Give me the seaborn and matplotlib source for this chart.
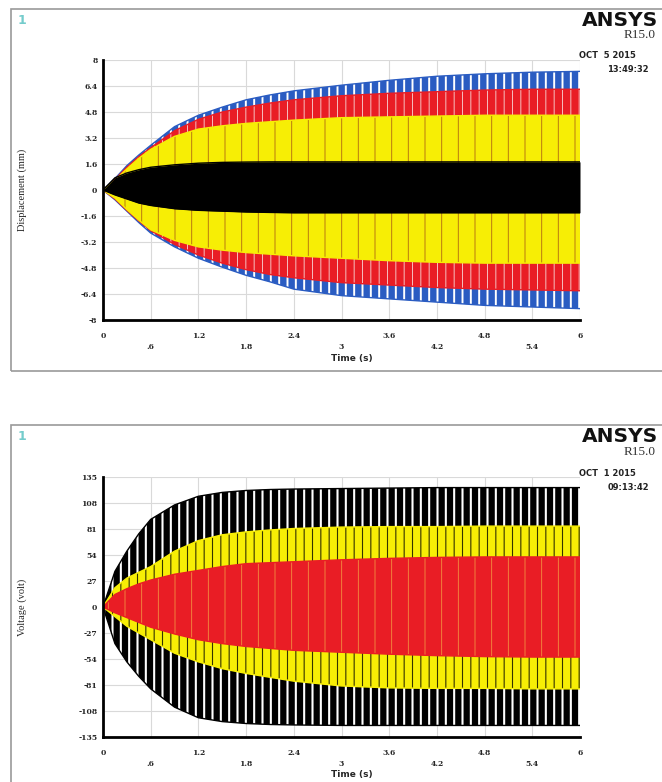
import matplotlib
matplotlib.use("Agg")
import matplotlib.pyplot as plt
import matplotlib.patches as mpatches
import seaborn as sns

# =============================================================================
# 1. DATOS (envolventes de cada señal)
# =============================================================================
T = [0, 0.15, 0.3, 0.45, 0.6, 0.9, 1.2, 1.5, 1.8, 2.1, 2.4, 3.0, 3.6, 4.2, 4.8, 5.4, 6.0]

# desplazamiento (mm)
DISP_BLUE_HI = [0, 0.7, 1.5, 2.15, 2.75, 3.9, 4.6, 5.1, 5.55, 5.85, 6.1, 6.45, 6.75, 7.0, 7.15, 7.25, 7.3]
DISP_BLUE_LO = [0, -0.6, -1.3, -2.0, -2.65, -3.5, -4.2, -4.75, -5.25, -5.65, -6.1, -6.5, -6.7, -6.9, -7.1, -7.2, -7.3]
DISP_RED_HI = [0, 0.65, 1.4, 2.05, 2.6, 3.65, 4.35, 4.8, 5.1, 5.35, 5.55, 5.8, 5.95, 6.05, 6.15, 6.2, 6.2]
DISP_RED_LO = [0, -0.55, -1.25, -1.9, -2.5, -3.35, -4.0, -4.5, -4.9, -5.2, -5.4, -5.7, -5.85, -6.0, -6.1, -6.15, -6.2]
DISP_YEL_HI = [0, 0.6, 1.3, 1.95, 2.5, 3.3, 3.75, 3.95, 4.1, 4.2, 4.3, 4.45, 4.5, 4.55, 4.6, 4.6, 4.6]
DISP_YEL_LO = [0, -0.5, -1.2, -1.85, -2.45, -3.1, -3.5, -3.7, -3.85, -3.95, -4.05, -4.2, -4.35, -4.45, -4.5, -4.5, -4.5]
DISP_BLK_HI = [0, 0.75, 1.05, 1.25, 1.4, 1.55, 1.65, 1.7, 1.72, 1.73, 1.73, 1.73, 1.73, 1.73, 1.73, 1.73, 1.73]
DISP_BLK_LO = [0, -0.3, -0.55, -0.8, -0.95, -1.15, -1.25, -1.3, -1.35, -1.38, -1.4, -1.4, -1.4, -1.4, -1.4, -1.4, -1.4]

# voltaje (volt)
VOLT_BLK_HI = [0, 37, 58, 76, 91, 106, 115, 119, 121, 122, 122.5, 123, 123.5, 124, 124, 124, 124]
VOLT_BLK_LO = [0, -38, -57, -72, -85, -104, -115, -119, -121, -122, -122.5, -123, -123, -123, -123, -123, -123]
VOLT_YEL_HI = [0, 20, 30, 36, 42, 58, 69, 75, 78, 80, 81.5, 83, 83.5, 83.5, 84, 84, 84]
VOLT_YEL_LO = [0, -10, -20, -27, -34, -48, -57, -64, -69, -73, -77, -82, -84, -84.5, -84.5, -85, -85]
VOLT_RED_HI = [0, 13, 19, 24, 28, 34, 38, 42, 45, 46, 47, 49, 50.5, 51.5, 52, 52, 52]
VOLT_RED_LO = [0, -6, -11, -16, -21, -28, -34, -38, -41, -43, -45, -47, -49, -50.5, -51.5, -52, -52]

X_TICKS_ROW1 = [0, 1.2, 2.4, 3.6, 4.8, 6]
X_LABELS_ROW1 = ['0', '1.2', '2.4', '3.6', '4.8', '6']
X_TICKS_ROW2 = [0.6, 1.8, 3.0, 4.2, 5.4]
X_LABELS_ROW2 = ['.6', '1.8', '3', '4.2', '5.4']

DISP_TICKS = [8, 6.4, 4.8, 3.2, 1.6, 0, -1.6, -3.2, -4.8, -6.4, -8]
DISP_LABELS = ['8', '6.4', '4.8', '3.2', '1.6', '0', '-1.6', '-3.2', '-4.8', '-6.4', '-8']
VOLT_TICKS = [135, 108, 81, 54, 27, 0, -27, -54, -81, -108, -135]
VOLT_LABELS = ['135', '108', '81', '54', '27', '0', '-27', '-54', '-81', '-108', '-135']

AZUL = '#2a5cc2'
ROJO = '#e91d25'
AMARILLO = '#f7ee05'
NEGRO = '#000000'

W, H = 662, 782


def fx(px):
    return px / W


def fy(py):
    return 1 - py / H


def dibujar_panel(ax, capas, yticks, ylabels, ylim):
    for i, (hi, lo, color, hatch, hcolor, hlw) in enumerate(capas):
        z = 2 + i
        with plt.rc_context({'hatch.linewidth': hlw}):
            ax.fill_between(T, lo, hi, facecolor=color,
                            edgecolor=hcolor if hatch else color,
                            hatch=hatch, linewidth=0, zorder=z)
        sns.lineplot(x=T, y=hi, color=color, lw=1.0, ax=ax, zorder=z)
        sns.lineplot(x=T, y=lo, color=color, lw=1.0, ax=ax, zorder=z)

    ax.set_xlim(0, 6)
    ax.set_ylim(*ylim)
    ax.set_xticks(X_TICKS_ROW1)
    ax.set_xticklabels(X_LABELS_ROW1)
    ax.set_xticks(X_TICKS_ROW2, minor=True)
    ax.set_xticklabels(X_LABELS_ROW2, minor=True)
    ax.set_yticks(yticks)
    ax.set_yticklabels(ylabels)
    ax.tick_params(axis='x', which='major', length=0, pad=8.5)
    ax.tick_params(axis='x', which='minor', length=0, pad=16.5)
    ax.tick_params(axis='y', length=0, pad=4)
    for lab in ax.get_xticklabels(which='both') + ax.get_yticklabels():
        lab.set_fontfamily('DejaVu Serif')
        lab.set_fontweight('bold')
        lab.set_fontsize(5.5)
    ax.grid(True, which='both', axis='x', color='#d9d9d9', lw=0.8, zorder=0)
    ax.grid(True, which='major', axis='y', color='#d9d9d9', lw=0.8, zorder=0)
    ax.set_axisbelow(True)
    ax.set_xlabel('')
    ax.set_ylabel('')
    for lado in ['top', 'right']:
        ax.spines[lado].set_visible(False)
    for lado in ['left', 'bottom']:
        ax.spines[lado].set_color('black')
        ax.spines[lado].set_linewidth(2.0)
        ax.spines[lado].set_zorder(10)


def main():
    sns.set_theme(style='whitegrid')
    plt.rcParams['font.family'] = ['DejaVu Sans']

    fig = plt.figure(figsize=(W / 100, H / 100), dpi=100)
    fig.patch.set_facecolor('white')

    # marcos de los dos paneles
    fig.patches.append(mpatches.Rectangle((fx(11), fy(371)), fx(700 - 11), (371 - 9) / H,
                                          transform=fig.transFigure, fill=False,
                                          edgecolor='#9a9a9a', lw=1.2))
    fig.patches.append(mpatches.Rectangle((fx(11), -0.05), fx(700 - 11), fy(425) + 0.05,
                                          transform=fig.transFigure, fill=False,
                                          edgecolor='#9a9a9a', lw=1.2))

    ax1 = fig.add_axes([fx(103), fy(320), fx(477), 260 / H])
    capas_desp = [
        (DISP_BLUE_HI, DISP_BLUE_LO, AZUL, '||', 'white', 1.4),
        (DISP_RED_HI, DISP_RED_LO, ROJO, '||', '#f6c0c0', 0.7),
        (DISP_YEL_HI, DISP_YEL_LO, AMARILLO, '|', '#b87a10', 0.7),
        (DISP_BLK_HI, DISP_BLK_LO, NEGRO, None, None, 1.0),
    ]
    dibujar_panel(ax1, capas_desp, DISP_TICKS, DISP_LABELS, (-8, 8))

    ax2 = fig.add_axes([fx(103), fy(737), fx(477), 260 / H])
    capas_volt = [
        (VOLT_BLK_HI, VOLT_BLK_LO, NEGRO, '||', 'white', 1.5),
        (VOLT_YEL_HI, VOLT_YEL_LO, AMARILLO, '||', '#333300', 0.8),
        (VOLT_RED_HI, VOLT_RED_LO, ROJO, '|', '#f39040', 0.6),
    ]
    dibujar_panel(ax2, capas_volt, VOLT_TICKS, VOLT_LABELS, (-135, 135))

    # textos de cada panel
    for dy, ylab, fecha, hora in [(0, 'Displacement (mm)', 'OCT  5 2015', '13:49:32'),
                                   (417, 'Voltage (volt)', 'OCT  1 2015', '09:13:42')]:
        fig.text(fx(18), fy(20 + dy), '1', color='#74cccc', fontsize=9, fontweight='bold',
                 ha='left', va='center')
        fig.text(fx(582), fy(20 + dy), 'ANSYS', fontsize=14.5, fontweight='bold',
                 ha='left', va='center', color='#111111')
        fig.text(fx(624), fy(35 + dy), 'R15.0', fontsize=9.5, family='Liberation Serif',
                 ha='left', va='center', color='#333333')
        fig.text(fx(579), fy(56 + dy), fecha, fontsize=6, fontweight='bold',
                 ha='left', va='center', color='#222222')
        fig.text(fx(628), fy(70 + dy), hora, fontsize=6, fontweight='bold',
                 ha='center', va='center', color='#222222')
        fig.text(fx(352), fy(358 + dy), 'Time (s)', fontsize=6.5, fontweight='bold',
                 ha='center', va='center')
        fig.text(fx(22), fy(190 + dy), ylab, fontsize=7.5, family='Liberation Serif',
                 rotation=90, ha='center', va='center')

    fig.savefig('out.png', dpi=100, facecolor='white')
    plt.close(fig)


if __name__ == "__main__":
    main()
